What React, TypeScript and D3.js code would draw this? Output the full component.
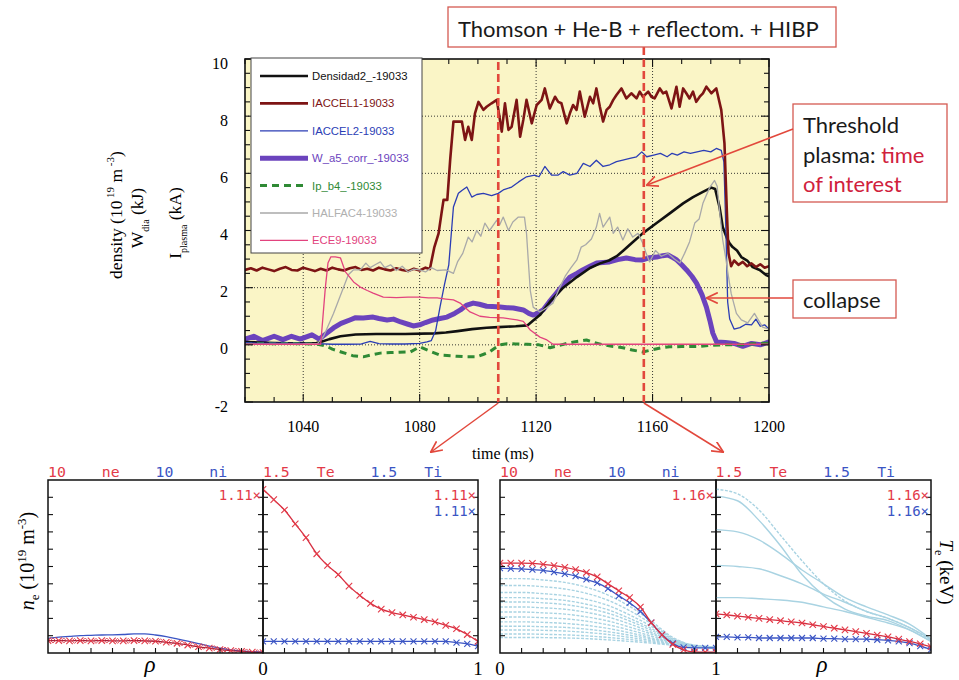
import React from 'react';
import * as d3 from 'd3';

// ---------------- Top chart: time traces, shot 19033 ----------------
const timeTicks = [1040, 1080, 1120, 1160, 1200];
const valueTicks = [-2, 0, 2, 4, 6, 8, 10];
const profileTimes = [1107, 1157];

const legendNames = ['Densidad2_-19033', 'IACCEL1-19033', 'IACCEL2-19033', 'W_a5_corr_-19033', 'Ip_b4_-19033', 'HALFAC4-19033', 'ECE9-19033'];

const densT = [1020,1025,1030,1035,1040,1044,1046,1049,1052.8,1058,1065,1075,1085,1089,1093,1098,1103,1107,1113,1117,1119,1121.3,1124.7,1129.3,1134,1138.5,1142,1145,1147.7,1150,1152.2,1156.6,1161.4,1165.9,1170.5,1173.9,1177.3,1180.2,1181.5,1183,1184.1,1185.4,1186.4,1187.5,1189,1190.5,1192.5,1194.4,1196.8,1199,1200];
const densV = [0.1,0.08,0.06,0.05,0.05,0.05,0.1,0.2,0.3,0.36,0.38,0.38,0.4,0.43,0.48,0.55,0.6,0.62,0.65,0.68,0.85,1.04,1.5,2.0,2.37,2.69,2.85,2.95,3.1,3.3,3.5,3.9,4.26,4.6,4.95,5.17,5.35,5.5,5.45,4.82,4.12,3.77,3.56,3.42,3.3,3.07,2.95,2.72,2.62,2.44,2.4];

const iacc1T = [1020,1022,1024,1026,1028,1030,1032,1034,1036,1038,1040,1042,1044,1046,1048,1050,1052,1054,1056,1058,1060,1062,1064,1066,1068,1070,1072,1074,1076,1078,1080,1082,1083.5,1085,1086.5,1087.5,1088.2,1089.5,1090.5,1091.6,1094.5,1095.6,1096.7,1097.9,1099,1100.2,1101.9,1103,1104.7,1106.5,1108.2,1109.3,1110.5,1111.6,1113.3,1114.5,1115.6,1116.7,1118.5,1120.2,1121.9,1123,1124.7,1126.5,1127.6,1128.7,1130.5,1131.6,1132.7,1133.9,1135,1136.7,1138.5,1139.6,1140.7,1141.9,1143,1144.2,1145.3,1146.5,1147.6,1149.3,1151,1152.7,1154.5,1155.6,1156.7,1158.5,1159.6,1160.7,1162.5,1163.6,1164.7,1166.5,1168.2,1169.3,1170.5,1171.6,1172.7,1173.9,1175,1176.2,1177.3,1178.5,1180.2,1181.9,1183.6,1184.7,1185.5,1186.1,1187,1188,1189.5,1191,1192.5,1194,1195.5,1197,1198.5,1200];
const iacc1V = [2.62,2.68,2.6,2.7,2.64,2.58,2.66,2.72,2.62,2.6,2.7,2.64,2.58,2.66,2.6,2.7,2.64,2.6,2.68,2.72,2.62,2.66,2.6,2.7,2.64,2.6,2.68,2.62,2.58,2.66,2.6,2.7,2.65,3.4,3.9,4.6,5.07,5.07,6.5,7.81,7.81,7.17,7.63,7.17,8.1,8.5,8.22,8.33,8.45,8.57,7.46,8.45,7.52,7.63,8.57,7.28,7.87,8.57,7.75,8.39,8.57,8.97,8.27,8.68,8.5,8.45,7.75,8.1,8.39,8.22,8.86,7.98,8.68,8.45,8.97,8.33,7.81,8.22,8.33,8.57,8.74,8.97,8.62,8.8,8.62,8.86,8.68,8.86,8.68,8.62,8.97,8.8,8.86,8.27,9.03,8.33,8.97,8.8,8.62,8.86,8.5,8.68,8.8,9.03,8.8,8.97,8.22,7.05,4.72,3.2,2.75,2.95,2.8,2.9,2.75,2.85,2.72,2.82,2.7,2.75];

const iacc2T = [1020,1025,1030,1035,1040,1045,1050,1055,1060,1063,1066,1070,1075,1080,1082.5,1084,1085.5,1087,1088.5,1090,1091.6,1093.3,1094.5,1096.2,1097.9,1099.6,1101.9,1104.7,1107,1108.7,1111.6,1114,1116.7,1119.5,1121,1123,1125.3,1127.6,1129.3,1131.6,1134,1136.2,1138.5,1140.7,1143,1145.3,1147.6,1149.8,1152.2,1154.5,1156.3,1158,1160.4,1162.7,1165,1166.7,1168.5,1170.8,1173,1175.3,1177.6,1180,1181.9,1183.6,1184.5,1185.2,1185.8,1186.5,1188,1190,1192,1194,1195.5,1197,1198.5,1200];
const iacc2V = [0.08,0.05,0.06,0.05,0.05,0.04,0.02,0.02,0.03,0.12,0.04,0.03,0.03,0.05,0.1,0.15,0.5,1.33,2.1,2.8,4.82,5.3,5.4,5.52,5.17,5.26,5.3,5.22,5.3,5.42,5.52,5.7,5.88,5.94,5.88,6.24,5.94,5.94,6.06,5.94,6.0,6.35,6.24,6.46,6.24,6.3,6.41,6.46,6.52,6.58,6.75,6.58,6.64,6.7,6.58,6.7,6.64,6.75,6.7,6.75,6.8,6.75,6.87,6.8,6.4,4.0,1.5,0.9,0.55,0.6,0.72,0.7,0.9,0.65,0.7,0.55];

const wdiaT = [1020,1023,1026,1030,1033,1036,1039,1043,1045.5,1048,1050.4,1053,1056,1058,1060.6,1064,1066,1068.8,1071,1073.5,1076,1077.8,1080,1082,1084.6,1087,1089.4,1092,1094,1096,1098.4,1100.5,1103,1105,1107.6,1110,1112.2,1115.6,1117.5,1119,1120.5,1122.4,1124.5,1127,1129.3,1131.6,1134,1136,1138.5,1140.8,1143,1145.2,1148,1151,1154,1156.6,1159,1161.4,1163.5,1165.3,1167,1168.3,1170,1171.7,1173.5,1175.1,1177,1178.5,1179.7,1180.7,1182,1185,1188,1191,1194,1197,1200];
const wdiaV = [0.2,0.3,0.15,0.3,0.18,0.3,0.2,0.35,0.2,0.4,0.59,0.75,0.87,0.95,0.94,0.97,0.92,0.87,0.9,0.8,0.72,0.66,0.7,0.78,0.87,0.92,0.97,1.1,1.22,1.38,1.46,1.42,1.35,1.34,1.32,1.3,1.29,1.22,1.1,1.04,1.1,1.22,1.5,1.81,2.1,2.37,2.5,2.62,2.75,2.86,2.88,2.9,2.98,3.04,2.98,2.97,3.05,3.07,3.12,3.14,3.05,2.97,2.8,2.62,2.4,2.16,1.75,1.32,0.85,0.41,0.1,0.08,0.05,-0.05,0.05,0.0,0.1];

const ipT = [1020,1025,1030,1035,1040,1045,1048,1050,1053,1057,1060.6,1063,1066.5,1070,1073,1076.8,1080,1083,1087,1092.8,1096,1099.6,1102,1104,1106,1107.6,1110,1113,1117,1121,1124.8,1128,1131,1134,1137.3,1140,1143,1146,1149.8,1153,1156.6,1160,1163,1165.9,1170,1175,1180,1185,1190,1195,1200];
const ipV = [0.05,0.05,0.04,0.05,0.04,0.02,-0.05,-0.15,-0.25,-0.38,-0.42,-0.36,-0.29,-0.27,-0.26,-0.25,-0.07,-0.2,-0.36,-0.4,-0.42,-0.42,-0.33,-0.25,-0.1,0.0,0.04,0.03,0.02,0.0,-0.1,-0.02,0.06,0.12,0.17,0.08,0.0,-0.05,-0.1,-0.18,-0.25,-0.17,-0.1,-0.07,-0.06,-0.06,-0.02,0.0,0.0,0.04,0.06];

const halfT = [1020,1030,1040,1045,1047,1050.4,1053.8,1055.5,1057.2,1059.6,1061.5,1063,1065,1066.5,1068,1070,1072,1074,1076,1078,1080,1082,1084,1086,1089,1091.6,1093,1094.8,1096.7,1098,1099.6,1101,1102.4,1104,1106.5,1107.5,1108.7,1110.5,1112,1113.9,1116,1116.7,1117.3,1118,1119,1121.3,1123.5,1125.8,1128.2,1130,1132,1134,1135.5,1137,1139,1140.7,1141.8,1143,1145.3,1146.5,1148,1149.8,1151.5,1153.2,1155,1156.6,1157.8,1159,1161,1163,1165.3,1167.5,1169.4,1171,1172.7,1174.5,1176,1177.3,1179.6,1181.3,1182.2,1183,1184.1,1185.2,1185.9,1187,1188.8,1190.5,1192.7,1195,1197.8,1200];
const halfV = [0.02,0.02,0.03,0.05,0.3,1.1,2.0,2.45,2.62,2.62,2.86,2.7,2.82,2.9,2.7,2.8,2.6,2.75,2.55,2.65,2.62,2.55,2.7,2.6,2.62,2.5,2.9,3.2,3.77,3.6,4.0,3.8,4.26,4.0,4.36,4.2,4.47,4.0,4.3,4.47,4.47,3.9,2.97,1.9,1.32,1.15,1.29,1.46,2.02,2.4,2.7,2.97,3.42,3.5,3.7,4.12,4.6,4.12,4.47,3.9,4.12,3.67,4.06,3.77,3.9,3.56,3.2,2.9,3.3,3.1,3.2,3.0,2.86,3.2,3.6,4.26,4.4,4.95,5.5,5.75,5.55,4.7,3.67,3.0,2.5,1.8,1.1,0.87,0.77,1.1,0.62,0.55];

const eceT = [1020,1030,1040,1046,1047.6,1048.5,1049.5,1051,1052.8,1054.5,1057.3,1059.6,1062,1064,1067.5,1072,1076,1080,1083,1086,1089,1091.6,1093.9,1097.3,1100.7,1104,1108.7,1113.4,1115.6,1118,1121.3,1123.7,1125.8,1140,1160,1180,1200];
const eceV = [0.02,0.02,0.02,0.02,2.0,2.86,3.08,3.08,3.04,2.55,2.2,2.02,1.9,1.81,1.67,1.65,1.67,1.67,1.64,1.64,1.6,1.57,1.46,1.15,1.0,0.96,0.94,0.87,0.82,0.52,0.27,0.17,0.02,0.02,0.02,0.02,0.02];

// ---------------- Bottom panels: radial profiles ----------------
const rho05 = [0,0.05,0.1,0.15,0.2,0.25,0.3,0.35,0.4,0.45,0.5,0.55,0.6,0.65,0.7,0.75,0.8,0.85,0.9,0.95,1];
const rho10 = [0,0.1,0.2,0.3,0.4,0.5,0.6,0.7,0.8,0.9,1];

const headerTokens = ['10', 'ne', '10', 'ni', '1.5', 'Te', '1.5', 'Ti'];
const factor1 = '1.11×';
const factor2 = '1.16×';

// t = 1.11 s
const ne1 = [0.72,0.72,0.7,0.72,0.7,0.72,0.7,0.7,0.72,0.7,0.68,0.62,0.56,0.46,0.36,0.28,0.2,0.14,0.09,0.05,0.03];
const ni1 = [0.85,0.92,0.96,1.0,1.02,1.04,1.05,1.07,1.1,1.1,1.04,0.95,0.82,0.68,0.54,0.4,0.28,0.18,0.12,0.08,0.06];
const te1 = [1.42,1.33,1.24,1.12,1.0,0.86,0.76,0.68,0.58,0.5,0.43,0.38,0.35,0.33,0.31,0.29,0.27,0.24,0.21,0.16,0.1];
const ti1 = [0.1,0.1,0.1,0.1,0.1,0.1,0.1,0.1,0.1,0.1,0.1,0.1,0.1,0.1,0.1,0.1,0.1,0.1,0.09,0.08,0.06];

// t = 1.16 s
const ne2 = [5.2,5.2,5.2,5.18,5.12,5.05,4.95,4.82,4.65,4.4,4.0,3.6,3.2,2.66,1.75,1.05,0.5,0.18,0.06,0.05,0.05];
const ni2 = [4.9,4.88,4.86,4.82,4.78,4.68,4.58,4.45,4.25,4.05,3.72,3.3,2.9,2.4,1.75,1.05,0.55,0.32,0.3,0.3,0.3];
const te2 = [0.34,0.33,0.32,0.31,0.3,0.29,0.28,0.27,0.26,0.245,0.23,0.215,0.2,0.185,0.17,0.155,0.14,0.12,0.1,0.08,0.055];
const ti2 = [0.14,0.14,0.135,0.135,0.13,0.13,0.13,0.13,0.13,0.13,0.125,0.125,0.12,0.12,0.12,0.115,0.11,0.1,0.085,0.06,0.03];

// earlier profiles (pale background curves)
const neHistory = [
  [4.3,4.3,4.22,4.08,3.8,3.35,2.7,1.85,0.9,0.45,0.35],
  [3.9,3.9,3.83,3.7,3.45,3.05,2.45,1.7,0.85,0.45,0.35],
  [3.5,3.5,3.43,3.32,3.1,2.75,2.2,1.55,0.8,0.42,0.33],
  [3.2,3.2,3.14,3.04,2.82,2.5,2.0,1.42,0.75,0.42,0.33],
  [2.95,2.95,2.9,2.8,2.6,2.3,1.85,1.32,0.72,0.4,0.32],
  [2.66,2.66,2.61,2.53,2.35,2.08,1.68,1.2,0.68,0.4,0.32],
  [2.37,2.37,2.32,2.25,2.09,1.85,1.5,1.1,0.64,0.38,0.3],
  [2.08,2.08,2.04,1.98,1.84,1.63,1.33,0.98,0.6,0.38,0.3],
  [1.8,1.8,1.77,1.71,1.6,1.42,1.17,0.88,0.56,0.36,0.3],
  [1.55,1.55,1.52,1.48,1.38,1.23,1.03,0.8,0.52,0.36,0.3],
  [1.33,1.33,1.31,1.27,1.19,1.07,0.9,0.72,0.5,0.35,0.3],
  [1.1,1.1,1.08,1.05,0.99,0.9,0.78,0.64,0.48,0.35,0.3],
  [0.9,0.9,0.89,0.87,0.83,0.76,0.67,0.57,0.45,0.34,0.3],
];
const teHistory = [
  [1.36,1.32,1.15,0.93,0.68,0.5,0.38,0.32,0.28,0.2,0.1],
  [1.42,1.38,1.24,1.02,0.8,0.6,0.45,0.36,0.3,0.22,0.11],
  [1.07,1.05,0.98,0.86,0.72,0.6,0.48,0.4,0.33,0.25,0.12],
  [0.76,0.75,0.73,0.67,0.6,0.51,0.44,0.36,0.3,0.22,0.12],
  [0.48,0.48,0.47,0.46,0.44,0.4,0.36,0.31,0.26,0.2,0.1],
];

const ANN = '#e2483c';
const RED = '#e33a48';
const BLUE = '#3b55c4';
const PALE = '#a9d3e2';
const SERIF = '"Liberation Serif", "Times New Roman", serif';
const SANS = '"Liberation Sans", Arial, sans-serif';
const LATO = 'Lato, "Open Sans", sans-serif';
const MONO = '"DejaVu Sans Mono", monospace';

export default function App() {
  const x = d3.scaleLinear().domain([1020, 1200]).range([245, 769]);
  const y = d3.scaleLinear().domain([-2, 10]).range([402, 59]);
  const mk = (ts: number[], vs: number[]) =>
    d3.line<number>().x((_, i) => x(ts[i])).y((v) => y(v))(vs) || '';

  const styles = [
    { color: '#111111', w: 2.6, dash: undefined as string | undefined },
    { color: '#7d1414', w: 2.6, dash: undefined },
    { color: '#2b3db5', w: 1.3, dash: undefined },
    { color: '#6b43bd', w: 5, dash: undefined },
    { color: '#2f8a35', w: 3, dash: '7,5' },
    { color: '#a9a9a9', w: 1.3, dash: undefined },
    { color: '#e2437e', w: 1.3, dash: undefined },
  ];
  const data: [number[], number[]][] = [
    [densT, densV], [iacc1T, iacc1V], [iacc2T, iacc2V], [wdiaT, wdiaV], [ipT, ipV], [halfT, halfV], [eceT, eceV],
  ];
  const drawOrder = [3, 0, 4, 2, 1, 5, 6];
  const legendTextColors = ['#111', '#7d1414', '#2b3db5', '#6b43bd', '#2f8a35', '#b0b0b0', '#e2437e'];

  const [X0, X1] = x.range();
  const [Y0, Y1] = y.range();

  const minorX = d3.range(1020, 1201, 10);
  const minorY = d3.range(-2, 10.01, 0.5);

  const PT = 480, PB = 653;
  const panels = [
    { x0: 48, x1: 263, max: 10, red: ne1, blue: ni1, hist: [] as number[][], redTxt: factor1, blueTxt: '', blueMarks: false, redDiamond: true },
    { x0: 263, x1: 478, max: 1.5, red: te1, blue: ti1, hist: [] as number[][], redTxt: factor1, blueTxt: factor1, blueMarks: true, redDiamond: false },
    { x0: 500, x1: 716, max: 10, red: ne2, blue: ni2, hist: neHistory, redTxt: factor2, blueTxt: '', blueMarks: true, redDiamond: false },
    { x0: 716, x1: 931, max: 1.5, red: te2, blue: ti2, hist: teHistory, redTxt: factor2, blueTxt: factor2, blueMarks: true, redDiamond: false },
  ];
  const headerGroups = [{ x0: 48, x1: 478 }, { x0: 500, x1: 931 }];

  const cross = (cx: number, cy: number, s: number) =>
    `M${cx - s},${cy - s}L${cx + s},${cy + s}M${cx - s},${cy + s}L${cx + s},${cy - s}`;
  const diamond = (cx: number, cy: number, s: number) =>
    `M${cx},${cy - s}L${cx + s},${cy}L${cx},${cy + s}L${cx - s},${cy}Z`;

  return (
    <svg width={959} height={680} viewBox="0 0 959 680" style={{ position: 'absolute', left: 0, top: 0, background: '#fff' }}>
      <defs>
        <clipPath id="plotclip"><rect x={X0} y={Y1} width={X1 - X0} height={Y0 - Y1} /></clipPath>
        {panels.map((p, i) => (
          <clipPath key={i} id={`pc${i}`}><rect x={p.x0} y={PT} width={p.x1 - p.x0} height={PB - PT} /></clipPath>
        ))}
        <marker id="ah" viewBox="0 0 10 10" refX="9" refY="5" markerWidth="8" markerHeight="8" orient="auto">
          <path d="M0,0.5 L9.5,5 L0,9.5" fill="none" stroke={ANN} strokeWidth="1.4" />
        </marker>
      </defs>

      {/* ---------- top chart ---------- */}
      <rect x={X0} y={Y1} width={X1 - X0} height={Y0 - Y1} fill="#faf5c6" />
      {timeTicks.filter((t) => t < 1200).map((t) => (
        <line key={'gx' + t} x1={x(t)} x2={x(t)} y1={Y1} y2={Y0} stroke="#222" strokeWidth={0.9} strokeDasharray="1,2" />
      ))}
      {valueTicks.filter((v) => v > -2 && v < 10).map((v) => (
        <line key={'gy' + v} x1={X0} x2={X1} y1={y(v)} y2={y(v)} stroke="#222" strokeWidth={0.9} strokeDasharray="1,2" />
      ))}
      <g clipPath="url(#plotclip)">
        {drawOrder.map((k) => (
          <path key={k} d={mk(data[k][0], data[k][1])} fill="none" stroke={styles[k].color} strokeWidth={styles[k].w}
            strokeDasharray={styles[k].dash} strokeLinejoin="round" strokeLinecap={styles[k].dash ? 'butt' : 'round'} />
        ))}
      </g>
      {minorX.map((t) => {
        const L = t % 40 === 0 ? 8 : 5;
        return (
          <g key={'tx' + t} stroke="#111" strokeWidth={1.1}>
            <line x1={x(t)} x2={x(t)} y1={Y0} y2={Y0 - L} />
            <line x1={x(t)} x2={x(t)} y1={Y1} y2={Y1 + L} />
          </g>
        );
      })}
      {minorY.map((v) => {
        const L = Math.abs(v % 2) < 1e-6 ? 8 : 5;
        return (
          <g key={'ty' + v} stroke="#111" strokeWidth={1.1}>
            <line x1={X0} x2={X0 + L} y1={y(v)} y2={y(v)} />
            <line x1={X1} x2={X1 - L} y1={y(v)} y2={y(v)} />
          </g>
        );
      })}
      <rect x={X0} y={Y1} width={X1 - X0} height={Y0 - Y1} fill="none" stroke="#111" strokeWidth={1.6} />

      {/* legend */}
      <rect x={251} y={58} width={171} height={195} fill="#fff" stroke="#444" strokeWidth={1} />
      {legendNames.map((n, i) => {
        const ly = 76 + i * 27.4;
        return (
          <g key={n}>
            <line x1={260} x2={308} y1={ly} y2={ly} stroke={styles[i].color} strokeWidth={styles[i].w}
              strokeDasharray={styles[i].dash} />
            <text x={312} y={ly} dominantBaseline="central" fontFamily={SANS} fontSize={11.3} fill={legendTextColors[i]}>{n}</text>
          </g>
        );
      })}

      {/* axis labels */}
      {valueTicks.map((v) => (
        <text key={'yl' + v} x={228} y={y(v) + 4} textAnchor="end" dominantBaseline="central" fontFamily={SERIF} fontSize={16}>{v}</text>
      ))}
      {timeTicks.map((t) => (
        <text key={'xl' + t} x={x(t)} y={432} textAnchor="middle" fontFamily={SERIF} fontSize={16}>{t}</text>
      ))}
      <text x={503} y={459} textAnchor="middle" fontFamily={SERIF} fontSize={16}>time (ms)</text>

      <g fontFamily={SERIF} fontSize={17.5}>
        <text transform="translate(122,215) rotate(-90)" textAnchor="middle">
          density (10<tspan dy={-8} fontSize={11}> 19</tspan><tspan dy={8}> m</tspan><tspan dy={-8} fontSize={11}> -3</tspan><tspan dy={8}>)</tspan>
        </text>
        <text transform="translate(143,218) rotate(-90)" textAnchor="middle">
          W<tspan dy={6} fontSize={10}>dia</tspan><tspan dy={-6}> (kJ)</tspan>
        </text>
        <text transform="translate(181,223) rotate(-90)" textAnchor="middle">
          I<tspan dy={6} fontSize={10}>plasma</tspan><tspan dy={-6}> (kA)</tspan>
        </text>
      </g>

      {/* profile-time markers */}
      <line x1={x(profileTimes[0])} x2={x(profileTimes[0])} y1={62} y2={Y0} stroke={ANN} strokeWidth={2.6} strokeDasharray="8,4" />
      <line x1={x(profileTimes[1])} x2={x(profileTimes[1])} y1={47} y2={Y0} stroke={ANN} strokeWidth={2.6} strokeDasharray="8,4" />

      {/* annotations */}
      <rect x={448} y={7} width={388} height={40} fill="#fff" stroke="#d45a52" strokeWidth={1.3} />
      <text x={458} y={37} fontFamily={LATO} fontSize={22} fill="#1a1a1a">Thomson + He-B + reflectom. + HIBP</text>

      <rect x={793} y={104} width={154} height={98} fill="#fff" stroke="#d45a52" strokeWidth={1.3} />
      <g fontFamily={LATO} fontSize={22}>
        <text x={803} y={133} fill="#1a1a1a">Threshold</text>
        <text x={803} y={163} fill="#1a1a1a">plasma: <tspan fill="#d0213c">time</tspan></text>
        <text x={803} y={192} fill="#d0213c">of interest</text>
      </g>
      <rect x={793} y={280} width={103} height={38} fill="#fff" stroke="#d45a52" strokeWidth={1.3} />
      <text x={803} y={308} fontFamily={LATO} fontSize={22} fill="#1a1a1a">collapse</text>

      <line x1={793} y1={129} x2={647} y2={185} stroke={ANN} strokeWidth={1.5} markerEnd="url(#ah)" />
      <line x1={793} y1={298} x2={707} y2={298} stroke={ANN} strokeWidth={1.5} markerEnd="url(#ah)" />
      <line x1={x(profileTimes[0])} y1={403} x2={431} y2={452} stroke={ANN} strokeWidth={1.5} markerEnd="url(#ah)" />
      <line x1={x(profileTimes[1])} y1={403} x2={723} y2={452} stroke={ANN} strokeWidth={1.5} markerEnd="url(#ah)" />

      {/* ---------- bottom panels ---------- */}
      {headerGroups.map((g, gi) => {
        const slot = (g.x1 - g.x0) / headerTokens.length;
        return (
          <g key={'hg' + gi} fontFamily={MONO} fontSize={14.8}>
            {headerTokens.map((tk, i) => (
              <text key={i} x={g.x0 + i * slot} y={477} fill={Math.floor(i / 2) % 2 === 0 ? RED : BLUE}>{tk}</text>
            ))}
          </g>
        );
      })}

      {panels.map((p, pi) => {
        const px = d3.scaleLinear().domain([0, 1]).range([p.x0, p.x1]);
        const py = d3.scaleLinear().domain([0, p.max]).range([PB, PT]);
        const ln = (xs: number[], vs: number[]) =>
          d3.line<number>().x((_, i) => px(xs[i])).y((v) => py(v)).curve(d3.curveMonotoneX)(vs) || '';
        const yT = d3.range(1, 10).map((k) => (k * p.max) / 10);
        const xT = d3.range(1, 10).map((k) => k / 10);
        return (
          <g key={'p' + pi}>
            <g clipPath={`url(#pc${pi})`}>
              {p.hist.map((h, hi) => (
                <path key={hi} d={ln(rho10, h)} fill="none" stroke={PALE} strokeWidth={1.4}
                  strokeDasharray={pi === 3 && hi !== 1 ? undefined : '3,1.5'} />
              ))}
              <path d={ln(rho05, p.blue)} fill="none" stroke={BLUE} strokeWidth={1.3} />
              {p.blueMarks && p.blue.map((v, i) => (
                <path key={'bm' + i} d={cross(px(rho05[i]), py(v), 3)} stroke={BLUE} strokeWidth={1.1} fill="none" />
              ))}
              <path d={ln(rho05, p.red)} fill="none" stroke={pi === 0 ? '#a0203a' : '#d62e40'} strokeWidth={1.3} />
              {p.red.map((v, i) => (
                <path key={'rm' + i} d={cross(px(rho05[i]), py(v), 3.2)} stroke={RED} strokeWidth={1.1} fill="none" />
              ))}
              {p.redDiamond && p.red.map((v, i) => (
                <path key={'rd' + i} d={diamond(px(rho05[i]) + 5, py(v), 2.5)} stroke={RED} strokeWidth={0.9} fill="none" />
              ))}
            </g>
            {yT.map((v) => (
              <g key={'py' + v} stroke="#111" strokeWidth={1.1}>
                <line x1={p.x0} x2={p.x0 + 5} y1={py(v)} y2={py(v)} />
                <line x1={p.x1} x2={p.x1 - 5} y1={py(v)} y2={py(v)} />
              </g>
            ))}
            {xT.map((v) => (
              <line key={'px' + v} x1={px(v)} x2={px(v)} y1={PB} y2={PB - 5} stroke="#111" strokeWidth={1.1} />
            ))}
            <rect x={p.x0} y={PT} width={p.x1 - p.x0} height={PB - PT} fill="none" stroke="#111" strokeWidth={1.5} />
            <text x={p.x1 - 2} y={500} textAnchor="end" fontFamily={MONO} fontSize={14} fill={RED}>{p.redTxt}</text>
            {p.blueTxt && (
              <text x={p.x1 - 2} y={516} textAnchor="end" fontFamily={MONO} fontSize={14} fill={BLUE}>{p.blueTxt}</text>
            )}
          </g>
        );
      })}

      {/* panel axis labels */}
      <g fontFamily={SERIF}>
        <text x={150} y={672} textAnchor="middle" fontSize={23} fontStyle="italic">ρ</text>
        <text x={822} y={672} textAnchor="middle" fontSize={23} fontStyle="italic">ρ</text>
        <text x={263} y={675} textAnchor="middle" fontSize={19}>0</text>
        <text x={478} y={675} textAnchor="middle" fontSize={19}>1</text>
        <text x={500} y={675} textAnchor="middle" fontSize={19}>0</text>
        <text x={716} y={675} textAnchor="middle" fontSize={19}>1</text>
        <text transform="translate(34,561) rotate(-90)" textAnchor="middle" fontSize={20}>
          <tspan fontStyle="italic">n</tspan><tspan dy={5} fontSize={13}>e</tspan><tspan dy={-5}> (10</tspan><tspan dy={-8} fontSize={13}>19</tspan><tspan dy={8}> m</tspan><tspan dy={-8} fontSize={13}>-3</tspan><tspan dy={8}>)</tspan>
        </text>
        <text transform="translate(940,572) rotate(90)" textAnchor="middle" fontSize={19}>
          <tspan fontStyle="italic">T</tspan><tspan dy={5} fontSize={12}>e</tspan><tspan dy={-5}> (keV)</tspan>
        </text>
      </g>
    </svg>
  );
}
